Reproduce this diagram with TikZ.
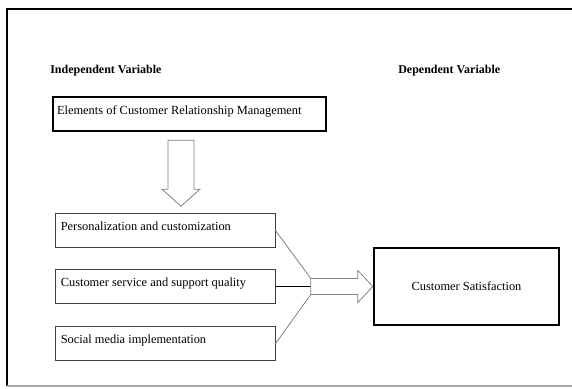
\documentclass[tikz,border=0pt]{standalone}
\usepackage{fontspec}
\setmainfont{Liberation Serif}
\usetikzlibrary{positioning, calc}

\begin{document}
\begin{tikzpicture}[
    x=0.75pt, y=-0.75pt,
    every node/.style={font=\fontsize{9.3}{11}\selectfont},
    head/.style={font=\fontsize{9}{11}\selectfont\bfseries, anchor=base west, inner sep=0pt},
    mainbox/.style={draw, line width=1.8pt, inner sep=0pt},
    factor/.style={draw=black!75, line width=0.7pt, minimum width=165pt, minimum height=25.5pt, inner sep=0pt},
    lbl/.style={anchor=base west, inner sep=0pt},
    blockarrow/.style={draw=black!50, line width=0.6pt, fill=white},
    link/.style={draw=black!50, line width=0.6pt},
  ]
  \useasboundingbox (0,0) rectangle (572,389);

  % ---- frame ----
  \draw[line width=1.8pt] (572,9) -- (7,9) -- (7,386);
  \draw[black!35, line width=1pt] (7,386) -- (572,386);

  % ---- headings ----
  \node[head] (indep) at (50,74) {Independent Variable};
  \node[head] (dep) at (398,74) {Dependent Variable};

  % ---- CRM elements ----
  \node[mainbox, minimum width=204.75pt, minimum height=25.5pt] (crm) at (189.5,114) {};
  \node[lbl] (crmtext) at ([xshift=3.75pt]crm.west) {Elements of Customer Relationship Management};

  % ---- factors ----
  \node[factor] (pers) at (165,230.5) {};
  \node[factor, below=16pt of pers] (serv) {};
  \node[factor, below=16.5pt of serv] (soc) {};
  \node[lbl] (perstext) at ([xshift=4.5pt]pers.west) {Personalization and customization};
  \node[lbl] (servtext) at ([xshift=4.5pt]serv.west) {Customer service and support quality};
  \node[lbl] (soctext) at ([xshift=4.5pt]soc.west) {Social media implementation};

  % ---- satisfaction ----
  \node[mainbox, minimum width=138.75pt, minimum height=57.75pt] (sat) at (466.5,286.5) {Customer Satisfaction};

  % ---- down arrow ----
  \coordinate (dtop) at ($(crm.south)+(-8.5,8)$);
  \draw[blockarrow] ($(dtop)+(-13,0)$) -- ++(26,0) -- ++(0,49) -- ++(6,0)
    -- ++(-19,17) -- ++(-19,-17) -- ++(6,0) -- cycle;

  % ---- links into the hub ----
  \coordinate (hub) at ($(sat.west)+(-62,0)$);
  \draw[link] (pers.east) -- ($(hub)+(0,-8)$);
  \draw[black, line width=0.6pt] (serv.east) -- (serv.east -| hub);
  \draw[link] (soc.east) -- ($(hub)+(0,8)$);

  % ---- right arrow ----
  \draw[blockarrow] ($(hub)+(0,-8)$) -- ++(47,0) -- ++(0,-8) -- (sat.west)
    -- ($(hub)+(47,16)$) -- ++(0,-8) -- ($(hub)+(0,8)$) -- cycle;

\end{tikzpicture}
\end{document}
